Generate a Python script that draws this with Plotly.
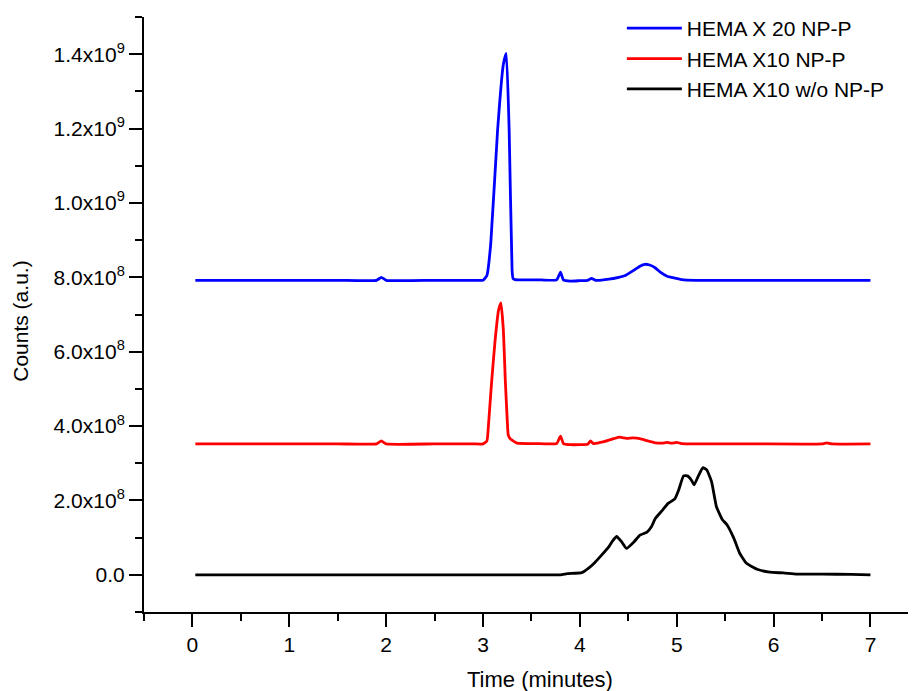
import plotly.graph_objects as go

# ---- data ----
blue_name = "HEMA X 20 NP-P"
blue_x = [0.03, 0.80, 1.50, 1.90, 1.95, 2.00, 2.50, 2.90, 3.00, 3.04, 3.08, 3.15, 3.21, 3.24,
          3.27, 3.30, 3.31, 3.33, 3.45, 3.60, 3.76, 3.80, 3.83, 3.90, 4.00, 4.08, 4.12, 4.16,
          4.30, 4.40, 4.47, 4.55, 4.62, 4.67, 4.72, 4.78, 4.83, 4.90, 4.96, 5.05, 5.20, 5.80,
          6.40, 7.00]
blue_y = [7.92, 7.92, 7.92, 7.92, 8.00, 7.92, 7.92, 7.92, 7.92, 8.05, 8.91, 11.94, 13.73, 14.02,
          11.94, 8.19, 7.97, 7.94, 7.93, 7.93, 7.93, 8.14, 7.93, 7.90, 7.91, 7.92, 7.97, 7.92,
          7.95, 8.00, 8.05, 8.18, 8.30, 8.35, 8.33, 8.25, 8.14, 8.03, 7.99, 7.94, 7.92, 7.92,
          7.92, 7.92]

red_name = "HEMA X10 NP-P"
red_x = [0.03, 0.80, 1.50, 1.90, 1.95, 2.00, 2.50, 2.90, 3.00, 3.04, 3.06, 3.09, 3.125, 3.16,
         3.185, 3.21, 3.23, 3.25, 3.26, 3.28, 3.30, 3.35, 3.55, 3.76, 3.80, 3.83, 3.90, 4.00,
         4.08, 4.11, 4.14, 4.25, 4.35, 4.41, 4.48, 4.55, 4.62, 4.70, 4.78, 4.85, 4.90, 4.95,
         5.00, 5.05, 5.20, 5.80, 6.50, 6.55, 6.60, 7.00]
red_y = [3.52, 3.52, 3.52, 3.52, 3.60, 3.52, 3.52, 3.52, 3.52, 3.60, 4.16, 5.23, 6.31, 7.11,
         7.31, 6.58, 5.23, 4.16, 3.76, 3.66, 3.62, 3.54, 3.53, 3.53, 3.73, 3.53, 3.50, 3.50,
         3.51, 3.60, 3.53, 3.58, 3.66, 3.70, 3.67, 3.68, 3.66, 3.60, 3.55, 3.54, 3.56, 3.54,
         3.56, 3.53, 3.52, 3.52, 3.52, 3.55, 3.52, 3.52]

black_name = "HEMA X10 w/o NP-P"
black_x = [0.03, 1.00, 2.00, 3.00, 3.50, 3.80, 3.87, 4.02, 4.09, 4.15, 4.21, 4.30, 4.34, 4.38,
           4.43, 4.48, 4.56, 4.62, 4.69, 4.74, 4.78, 4.86, 4.91, 4.98, 5.02, 5.07, 5.11, 5.15,
           5.18, 5.22, 5.27, 5.31, 5.36, 5.41, 5.47, 5.52, 5.59, 5.65, 5.72, 5.83, 5.96, 6.10,
           6.24, 6.50, 6.80, 7.00]
black_y = [0.00, 0.00, 0.00, 0.00, 0.00, 0.00, 0.03, 0.06, 0.18, 0.32, 0.49, 0.76, 0.92, 1.03,
           0.89, 0.71, 0.89, 1.07, 1.14, 1.30, 1.52, 1.76, 1.92, 2.04, 2.28, 2.66, 2.66, 2.55,
           2.42, 2.64, 2.88, 2.82, 2.50, 1.83, 1.49, 1.34, 0.98, 0.58, 0.31, 0.15, 0.07, 0.05,
           0.02, 0.02, 0.01, 0.00]

y_unit = 1e8  # series values are in units of 1e8 counts

x_tickvals = [0, 1, 2, 3, 4, 5, 6, 7]
x_ticktext = ["0", "1", "2", "3", "4", "5", "6", "7"]
y_tickvals = [0, 2e8, 4e8, 6e8, 8e8, 1.0e9, 1.2e9, 1.4e9]
y_ticktext = ["0.0", "2.0x10<sup>8</sup>", "4.0x10<sup>8</sup>", "6.0x10<sup>8</sup>",
              "8.0x10<sup>8</sup>", "1.0x10<sup>9</sup>", "1.2x10<sup>9</sup>", "1.4x10<sup>9</sup>"]

FONT = "Liberation Sans, Arial, sans-serif"

fig = go.Figure()
for name, xs, ys, col in [(blue_name, blue_x, blue_y, "#0000ff"),
                          (red_name, red_x, red_y, "#ff0000"),
                          (black_name, black_x, black_y, "#000000")]:
    fig.add_trace(go.Scatter(x=xs, y=[v * y_unit for v in ys], mode="lines", name=name,
                             line=dict(color=col, width=2.8, shape="spline", smoothing=0.4)))

# the page body adds an 8px offset, so the figure is 8px smaller than the window
fig.update_layout(
    width=908, height=683,
    margin=dict(l=136, r=0, t=7, b=79),
    paper_bgcolor="white", plot_bgcolor="white",
    font=dict(family=FONT, size=21, color="black"),
    showlegend=True,
    legend=dict(x=0.619, y=1.015, xanchor="left", yanchor="top", bgcolor="rgba(0,0,0,0)",
                font=dict(size=21), itemwidth=55, tracegroupgap=0),
    xaxis=dict(range=[-0.5, 7.47], showgrid=False, zeroline=False,
               showline=True, linecolor="black", linewidth=2,
               tickmode="array", tickvals=x_tickvals, ticktext=x_ticktext,
               ticks="outside", ticklen=13, tickwidth=2, tickcolor="black",
               minor=dict(tickmode="linear", tick0=-0.5, dtick=1, ticks="outside",
                          ticklen=7, tickwidth=2, tickcolor="black"),
               tickfont=dict(size=21)),
    yaxis=dict(range=[-1e8, 1.5e9], showgrid=False, zeroline=False,
               showline=True, linecolor="black", linewidth=2,
               tickmode="array", tickvals=y_tickvals, ticktext=y_ticktext,
               ticks="outside", ticklen=13, tickwidth=2, tickcolor="black",
               minor=dict(tickmode="linear", tick0=-1e8, dtick=2e8, ticks="outside",
                          ticklen=7, tickwidth=2, tickcolor="black"),
               tickfont=dict(size=21)),
    annotations=[
        dict(text="Time (minutes)", xref="paper", yref="paper", x=0.513, y=-0.114,
             xanchor="center", yanchor="middle", showarrow=False, font=dict(size=22)),
        dict(text="Counts (a.u.)", xref="paper", yref="paper", x=-0.161, y=0.489,
             xanchor="center", yanchor="middle", showarrow=False, textangle=-90,
             font=dict(size=21)),
    ],
)

fig.write_html("out.html")
